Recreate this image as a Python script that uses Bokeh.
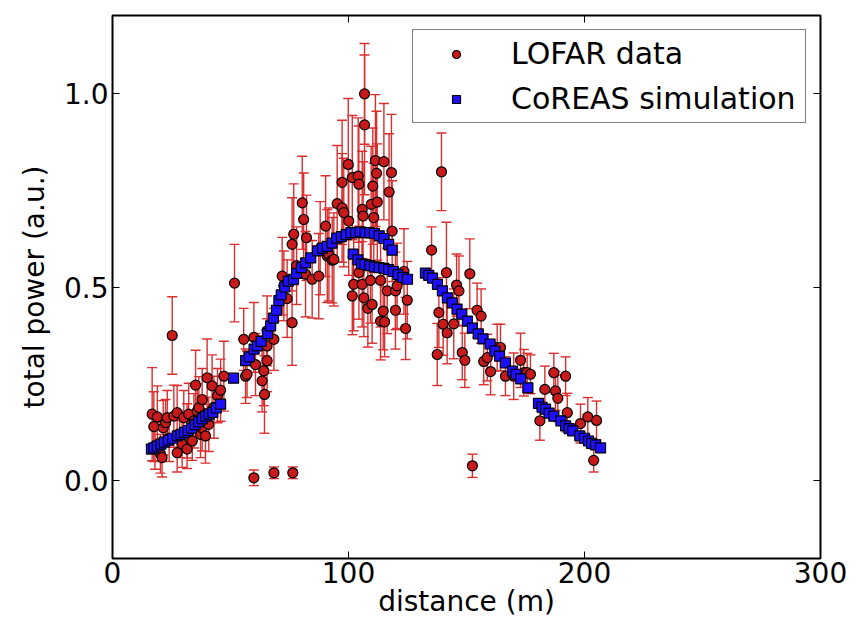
from bokeh.plotting import figure
from bokeh.models import (ColumnDataSource, Whisker, TeeHead, Range1d, FixedTicker,
                          LinearAxis, NumeralTickFormatter)
from bokeh.embed import file_html
from bokeh.resources import INLINE

# ---- data ----
lofar_x = [16.8, 17.5, 18.0, 19.0, 20.3, 21.0, 21.5, 22.5, 23.2, 24.0, 25.3, 26.0, 27.4, 27.4,
           28.5, 29.5, 30.2, 31.6, 31.6, 32.3, 33.8, 34.5, 35.2, 35.9, 36.6, 37.3, 38.0, 38.0,
           39.4, 40.1, 40.8, 42.2, 43.0, 44.5, 45.8, 47.2, 51.7,
           55.6, 56.4, 57.0, 59.9, 59.9, 60.6, 63.4, 64.1, 64.4, 65.5, 65.5, 65.5, 68.4, 68.4,
           71.9, 72.6, 74.0, 76.1, 76.1, 76.4, 76.8, 78.0, 80.4, 81.0, 81.8, 82.2, 84.6, 87.4,
           88.0, 90.3, 91.0, 91.7, 93.1, 93.8, 95.2, 97.3, 97.3, 98.0, 99.9, 100.1, 101.6, 101.6,
           102.2, 104.1, 104.4, 104.4, 105.8, 105.8, 106.2, 106.5, 106.8, 106.8, 108.2, 109.3,
           109.6, 110.0, 110.3, 110.7, 111.4, 111.9, 112.2, 113.6, 113.6, 114.7, 115.0, 115.3,
           116.4, 117.2, 118.2, 118.5, 119.9, 119.9, 120.6, 123.5, 124.2, 124.9,
           135.2, 137.6, 138.3, 139.4, 140.1, 141.5, 141.8, 144.6, 145.8, 146.8, 148.2, 149.3,
           151.4, 152.5, 154.5, 156.2, 157.3, 158.8, 160.2, 163.0, 164.4, 166.5, 170.0, 172.9,
           174.3, 175.7, 177.1, 181.1, 183.2, 187.0, 187.7, 188.7, 192.0, 192.7, 198.3, 201.4,
           203.9, 205.1]
lofar_y = [0.172, 0.14, 0.09, 0.165, 0.07, 0.06, 0.137, 0.15, 0.163, 0.11, 0.375, 0.167, 0.176, 0.073,
           0.12, 0.095, 0.163, 0.082, 0.129, 0.172, 0.103, 0.155, 0.247, 0.18, 0.189, 0.12, 0.21, 0.137,
           0.116, 0.266, 0.146, 0.245, 0.19, 0.22, 0.234, 0.27, 0.51,
           0.365, 0.27, 0.275, 0.37, 0.008, 0.30, 0.258, 0.284, 0.223, 0.387, 0.31, 0.348, 0.365, 0.021,
           0.528, 0.503, 0.47, 0.61, 0.408, 0.021, 0.636, 0.555, 0.717, 0.674, 0.533, 0.627, 0.52, 0.528,
           0.60, 0.657, 0.58, 0.584, 0.569, 0.571, 0.715, 0.77, 0.704, 0.692, 0.816, 0.67, 0.782, 0.477,
           0.507, 0.786, 0.765, 0.537, 0.70, 0.507, 0.683, 0.472, 0.998, 0.918, 0.445, 0.517,
           0.713, 0.455, 0.76, 0.679, 0.826, 0.793, 0.719, 0.517, 0.412, 0.438, 0.823, 0.41,
           0.49, 0.745, 0.795, 0.644, 0.49, 0.44, 0.503, 0.54, 0.393, 0.466,
           0.595, 0.326, 0.434, 0.797, 0.404, 0.537, 0.382, 0.405, 0.505, 0.49, 0.331, 0.311,
           0.534, 0.039, 0.44, 0.425, 0.308, 0.318, 0.282, 0.344, 0.344, 0.27, 0.27, 0.311,
           0.279, 0.279, 0.275, 0.155, 0.236, 0.279, 0.232, 0.213, 0.27, 0.176, 0.148, 0.165,
           0.053, 0.156]
lofar_err = [0.12, 0.09, 0.06, 0.08, 0.05, 0.05, 0.07, 0.06, 0.07, 0.06, 0.10, 0.08, 0.07, 0.05,
             0.06, 0.06, 0.07, 0.05, 0.07, 0.08, 0.05, 0.07, 0.09, 0.07, 0.08, 0.06, 0.08, 0.06,
             0.07, 0.10, 0.07, 0.08, 0.08, 0.07, 0.08, 0.09, 0.10,
             0.08, 0.07, 0.06, 0.09, 0.02, 0.08, 0.08, 0.09, 0.10, 0.09, 0.08, 0.07, 0.08, 0.015,
             0.10, 0.09, 0.10, 0.12, 0.11, 0.015, 0.13, 0.10, 0.12, 0.12, 0.11, 0.11, 0.10, 0.11,
             0.12, 0.13, 0.12, 0.12, 0.11, 0.12, 0.15, 0.16, 0.14, 0.14, 0.17, 0.14, 0.16, 0.10,
             0.12, 0.15, 0.15, 0.12, 0.15, 0.11, 0.14, 0.10, 0.13, 0.18, 0.10, 0.11,
             0.15, 0.10, 0.15, 0.14, 0.17, 0.16, 0.15, 0.12, 0.10, 0.10, 0.15, 0.09,
             0.11, 0.15, 0.15, 0.13, 0.10, 0.10, 0.11, 0.11, 0.08, 0.10,
             0.06, 0.08, 0.09, 0.10, 0.08, 0.13, 0.08, 0.09, 0.08, 0.09, 0.07, 0.07,
             0.09, 0.03, 0.07, 0.07, 0.06, 0.06, 0.06, 0.06, 0.06, 0.05, 0.06, 0.07,
             0.06, 0.05, 0.05, 0.05, 0.06, 0.05, 0.05, 0.06, 0.05, 0.05, 0.05, 0.05,
             0.03, 0.05]

sim_x = [16.5, 17.5, 19.0, 20.5, 22.0, 23.7, 25.5, 27.5, 29.0, 30.5, 32.0, 33.5, 35.0, 36.5,
         38.0, 39.5, 41.0, 42.5, 44.0, 45.8, 51.3,
         56.4, 58.0, 60.0, 61.4, 63.0, 65.7, 67.0, 68.2, 69.5, 70.5, 71.5, 73.0, 74.5, 76.7,
         78.0, 80.0, 81.8, 84.0, 86.9, 89.0, 91.0, 93.0, 95.0, 97.0, 99.0, 101.0, 103.0, 105.0,
         107.0, 109.0, 111.0, 113.0, 115.0, 117.0, 118.5,
         102.0, 104.0, 105.5, 107.0, 109.0, 111.0, 113.0, 115.0, 117.0, 119.0, 121.0, 123.0, 125.0,
         132.6, 134.0, 135.6, 137.7, 139.8, 141.9, 144.0, 146.0, 148.0, 150.4, 152.5, 155.0,
         157.0, 160.0, 162.0, 164.0, 166.5, 169.5, 171.0, 173.0, 176.0,
         180.5, 182.0, 183.5, 185.0, 187.0, 190.0, 192.0, 193.5, 195.0, 198.0, 200.0, 201.7,
         203.0, 204.7, 206.8]
sim_y = [0.082, 0.085, 0.09, 0.095, 0.10, 0.105, 0.11, 0.116, 0.12, 0.125, 0.13, 0.136, 0.145, 0.152,
         0.16, 0.167, 0.172, 0.177, 0.188, 0.198, 0.265,
         0.31, 0.32, 0.34, 0.348, 0.36, 0.38, 0.40, 0.42, 0.44, 0.465, 0.48, 0.50, 0.515, 0.52,
         0.535, 0.55, 0.562, 0.575, 0.593, 0.60, 0.605, 0.613, 0.626, 0.63, 0.635, 0.64, 0.64, 0.642,
         0.64, 0.64, 0.638, 0.632, 0.625, 0.61, 0.595,
         0.585, 0.57, 0.56, 0.558, 0.555, 0.552, 0.55, 0.548, 0.545, 0.54, 0.532, 0.525, 0.52,
         0.536, 0.53, 0.523, 0.507, 0.49, 0.472, 0.459, 0.443, 0.43, 0.412, 0.394, 0.379,
         0.366, 0.353, 0.335, 0.322, 0.304, 0.283, 0.275, 0.263, 0.24,
         0.20, 0.19, 0.185, 0.175, 0.167, 0.155, 0.142, 0.135, 0.129, 0.116, 0.11, 0.103,
         0.097, 0.093, 0.085]

x_ticks = [0, 100, 200, 300]
y_ticks = [0.0, 0.5, 1.0]
x_label = "distance (m)"
y_label = "total power (a.u.)"

RED_BAR = "#d92f2f"
RED_FILL = "#c81a1a"
BLUE_FILL = "#1e0fff"
FONT = "DejaVu Sans"

lofar_src = ColumnDataSource(dict(
    x=lofar_x, y=lofar_y,
    upper=[y + e for y, e in zip(lofar_y, lofar_err)],
    lower=[y - e for y, e in zip(lofar_y, lofar_err)],
))
sim_src = ColumnDataSource(dict(x=sim_x, y=sim_y))

p = figure(width=848, height=620, output_backend="svg", toolbar_location=None,
           x_range=Range1d(0, 300), y_range=Range1d(-0.2, 1.2),
           min_border_left=112, min_border_right=28, min_border_top=15, min_border_bottom=62,
           background_fill_color="white", border_fill_color="white")
p.grid.visible = False
p.outline_line_color = "black"
p.outline_line_width = 2

p.xaxis.ticker = FixedTicker(ticks=x_ticks)
p.yaxis.ticker = FixedTicker(ticks=y_ticks)
p.yaxis.formatter = NumeralTickFormatter(format="0.0")
p.xaxis.axis_label = x_label
p.yaxis.axis_label = y_label

for ax in (p.xaxis[0], p.yaxis[0]):
    ax.major_tick_in = 7
    ax.major_tick_out = 0
    ax.minor_tick_in = 0
    ax.minor_tick_out = 0
    ax.axis_line_color = None
    ax.major_tick_line_color = "black"
    ax.major_tick_line_width = 1
    ax.major_label_text_font = FONT
    ax.major_label_text_font_size = "28px"
    ax.major_label_text_color = "black"
    ax.axis_label_text_font = FONT
    ax.axis_label_text_font_size = "28px"
    ax.axis_label_text_font_style = "normal"
    ax.axis_label_text_color = "black"
p.xaxis.major_label_standoff = 3
p.xaxis.axis_label_standoff = -1
p.yaxis.major_label_standoff = 4
p.yaxis.axis_label_standoff = 10

top_ax = LinearAxis(ticker=FixedTicker(ticks=x_ticks), major_label_text_color=None,
                    major_label_text_font_size="1px",
                    major_tick_in=7, major_tick_out=0, minor_tick_in=0, minor_tick_out=0,
                    axis_line_color=None, major_label_standoff=0)
right_ax = LinearAxis(ticker=FixedTicker(ticks=y_ticks), major_label_text_color=None,
                      major_label_text_font_size="1px",
                      major_tick_in=7, major_tick_out=0, minor_tick_in=0, minor_tick_out=0,
                      axis_line_color=None, major_label_standoff=0)
p.add_layout(top_ax, "above")
p.add_layout(right_ax, "right")

whisk = Whisker(source=lofar_src, base="x", upper="upper", lower="lower",
                line_color=RED_BAR, line_width=1.4, level="underlay",
                upper_head=TeeHead(size=10, line_color=RED_BAR, line_width=1.4),
                lower_head=TeeHead(size=10, line_color=RED_BAR, line_width=1.4))
p.add_layout(whisk)

p.scatter("x", "y", source=lofar_src, marker="circle", size=10, fill_color=RED_FILL,
          line_color="black", line_width=1.2, legend_label="LOFAR data")
p.scatter("x", "y", source=sim_src, marker="square", size=10, fill_color=BLUE_FILL,
          line_color="black", line_width=1.2, legend_label="CoREAS simulation")

lg = p.legend[0]
lg.location = "top_right"
lg.margin = 14
lg.padding = 6
lg.spacing = 10
lg.glyph_width = 74
lg.glyph_height = 20
lg.label_height = 34
lg.label_width = 288
lg.label_standoff = 18
lg.label_text_font = FONT
lg.label_text_font_size = "30px"
lg.label_text_color = "black"
lg.border_line_color = "black"
lg.border_line_width = 1.5
lg.background_fill_color = "white"
lg.background_fill_alpha = 1.0

open("out.html", "w").write(file_html(p, INLINE))
